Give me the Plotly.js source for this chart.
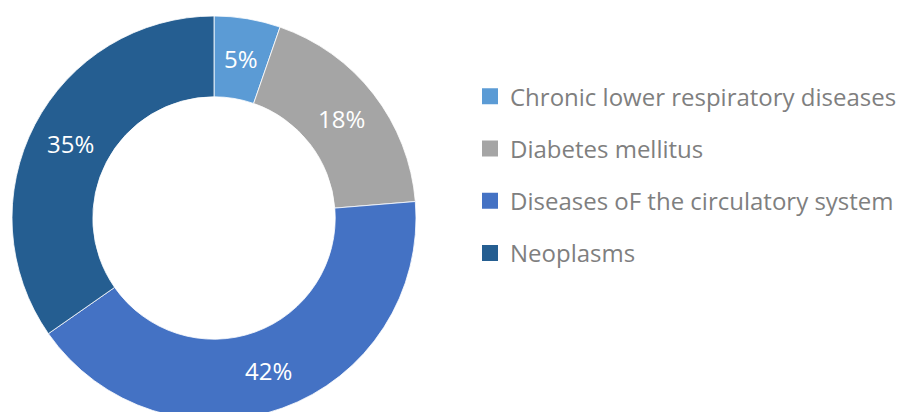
<!DOCTYPE html>
<html>
<head>
<meta charset="utf-8">
<script src="https://cdn.plot.ly/plotly-3.0.1.min.js"></script>
<style>
html,body{margin:0;padding:0;overflow:hidden;background:#fff;width:902px;height:412px;}
#chart{width:960px;height:430px;}
</style>
</head>
<body>
<div id="chart"></div>
<script>
const categories = ["Chronic lower respiratory diseases", "Diabetes mellitus", "Diseases oF the circulatory system", "Neoplasms"];
const values = [5.3, 18.4, 41.6, 34.7];
const colors = ["#5B9BD5", "#A5A5A5", "#4472C4", "#255E91"];

const FONT = "Open Sans, Noto Sans, sans-serif";
const FS = 24;
const HOLE = 0.6;

const W = 960, H = 430;
const M = {l: 12, r: W - 12 - 404, t: 16, b: H - 16 - 404};
const PLOT = 404; // square plot area for the donut

const pie = {
  type: "pie",
  labels: categories,
  values: values,
  hole: HOLE,
  sort: false,
  direction: "clockwise",
  rotation: 0,
  marker: {colors: colors, line: {color: "#ffffff", width: 0.8}},
  textinfo: "none",
  domain: {x: [0, 1], y: [0, 1]},
  showlegend: false,
  hoverinfo: "label+percent"
};

// data labels at the middle of the ring, at each slice's mid angle
const total = values.reduce((a, b) => a + b, 0);
const rMid = (1 + HOLE) / 4; // fraction of the plot size
let cum = 0;
const annotations = values.map((v) => {
  const mid = (cum + v / 2) / total * 2 * Math.PI;
  cum += v;
  return {
    xref: "paper", yref: "paper",
    x: 0.5 + rMid * Math.sin(mid),
    y: 0.5 + rMid * Math.cos(mid),
    xanchor: "center", yanchor: "middle",
    text: Math.round(v / total * 100) + "%",
    showarrow: false,
    font: {family: FONT, size: FS, color: "#ffffff"}
  };
});

const legendTraces = categories.map((c, i) => ({
  type: "scatter",
  mode: "markers",
  x: [null], y: [null],
  name: c,
  legendgroup: "g" + i,
  marker: {symbol: "square", size: 16, color: colors[i]},
  showlegend: true,
  hoverinfo: "skip"
}));

const layout = {
  width: W,
  height: H,
  margin: M,
  paper_bgcolor: "#ffffff",
  plot_bgcolor: "rgba(0,0,0,0)",
  font: {family: FONT, size: FS, color: "#7f7f7f"},
  xaxis: {visible: false, fixedrange: true},
  yaxis: {visible: false, fixedrange: true},
  annotations: annotations,
  showlegend: true,
  legend: {
    x: (470 - 12) / PLOT, xanchor: "left",
    y: 0.856, yanchor: "top",
    tracegroupgap: 18,
    itemsizing: "trace",
    font: {family: FONT, size: FS, color: "#7f7f7f"},
    bgcolor: "rgba(0,0,0,0)"
  }
};

Plotly.newPlot("chart", [pie].concat(legendTraces), layout, {displayModeBar: false, staticPlot: true});
</script>
</body>
</html>
